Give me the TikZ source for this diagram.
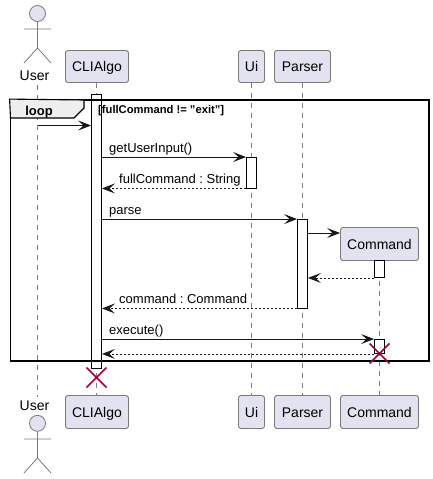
\documentclass[tikz,border=0pt]{standalone}
\usepackage{fontspec}
\setmainfont{Liberation Sans}
\usetikzlibrary{arrows.meta}
\frenchspacing
\definecolor{boxfill}{HTML}{E2E2F0}
\definecolor{boxline}{HTML}{7A7A7A}
\definecolor{inkline}{HTML}{181818}
\definecolor{lifeline}{HTML}{808080}
\definecolor{killred}{HTML}{A80036}
\definecolor{tabfill}{HTML}{EEEEEE}
\tikzset{
  part/.style={draw=boxline,fill=boxfill,rounded corners=2.5pt,line width=0.9pt,inner sep=0pt,
    minimum height=32pt,text height=10pt,text depth=0pt,font=\fontsize{14}{16}\selectfont,text=black},
  actorshape/.style={draw=boxline,line width=0.8pt},
  actorlabel/.style={inner sep=0pt,anchor=base,font=\fontsize{14}{16}\selectfont,text=black},
  life/.style={draw=lifeline,line width=0.8pt,dash pattern=on 5pt off 5pt},
  activation/.style={draw=black,fill=white,line width=0.9pt,inner sep=0pt,minimum width=10pt},
  msg/.style={draw=inkline,line width=0.9pt,-{Stealth[length=13pt,width=10pt,inset=5.5pt]}},
  ret/.style={msg,dash pattern=on 2pt off 2pt},
  msglabel/.style={inner sep=0pt,anchor=base west,font=\fontsize{13}{15}\selectfont,text=black},
  killmark/.style={draw=killred,line width=1.7pt},
  framebox/.style={draw=black,line width=1.8pt}
}
\begin{document}
\begin{tikzpicture}[x=1pt,y=-1pt]
\useasboundingbox (0,0) rectangle (433,479);
% participants
\node[part,minimum width=63pt] (cliT) at (97,66.5) {CLIAlgo};
\node[part,minimum width=26pt] (uiT) at (251.5,66.5) {Ui};
\node[part,minimum width=56pt] (parserT) at (302.5,66.5) {Parser};
\node[part,minimum width=78pt,minimum height=33pt] (cmdT) at (379.5,244) {Command};
\node[part,minimum width=63pt,minimum height=33pt] (cliB) at (97,412) {CLIAlgo};
\node[part,minimum width=26pt,minimum height=33pt] (uiB) at (251.5,412) {Ui};
\node[part,minimum width=56pt,minimum height=33pt] (parserB) at (302.5,412) {Parser};
\node[part,minimum width=78pt,minimum height=33pt] (cmdB) at (379.5,412) {Command};
% actors
\node[actorlabel] (userT) at (34.5,80) {User};
\node[actorlabel] (userB) at (34.5,410.7) {User};
\coordinate (userLifeT) at (37.5,85);
\coordinate (userLifeB) at (37.5,397);
\node[circle,draw=boxline,fill=boxfill,line width=0.8pt,minimum size=16pt,inner sep=0pt] (headT) at (37.5,13.5) {};
\draw[actorshape] (headT.south) -- (37.5,48) (24,29) -- (51,29) (24,63) -- (37.5,48) -- (51,63);
\node[circle,draw=boxline,fill=boxfill,line width=0.8pt,minimum size=16pt,inner sep=0pt] (headB) at (37.5,423.3) {};
\draw[actorshape] (headB.south) -- (37.5,458) (24,439) -- (51,439) (24,473) -- (37.5,458) -- (51,473);
% lifelines
\draw[life] (cliT.south -| 96.5,0) -- (cliB.north -| 96.5,0);
\draw[life] (userLifeT) -- (userLifeB);
\draw[life] (uiT) ++(0,16) -- (uiB.north);
\draw[life] (parserT) ++(0,16) -- (parserB.north);
\draw[life] (cmdT.south) -- (cmdB.north);
% activations
\node[activation,minimum height=274.5pt] (aCli) at (96.5,231.25) {};
\node[activation,minimum height=30.5pt] (aUi) at (251.5,172.75) {};
\node[activation,minimum height=88.5pt] (aParser) at (302.5,263.75) {};
\node[activation,minimum height=17pt] (aCmd) at (379.5,269) {};
\node[activation,minimum height=14pt] (aCmdTwo) at (379.5,346.5) {};
% loop frame
\node[draw=none,fill=none,inner sep=0pt,minimum width=418.5pt,minimum height=261pt,framebox] (loopFrame) at (219.75,230.5) {};
\path[fill=tabfill,draw=black,line width=1.1pt] (loopFrame.north west) -- (84,100) -- (84,108) -- (74,118) -- (10.5,118) -- cycle;
\node[inner sep=0pt,anchor=base,font=\fontsize{13}{15}\selectfont\bfseries,text=black] (loopLabel) at (39,115) {loop};
\node[inner sep=0pt,anchor=base west,font=\fontsize{11.2}{13}\selectfont\bfseries,text=black] (guard) at (98,113) {[fullCommand != \char34 exit\char34 ]};
% messages
\coordinate (userMsgStart) at (37.5,125.5);
\draw[msg] (userMsgStart) -- (aCli.west |- userMsgStart);
\draw[msg] (aCli.east |- aUi.north west) -- (aUi.north west);
\node[msglabel] (m1) at (109,152.8) {getUserInput()};
\draw[ret] (aUi.south west) -- (aCli.east |- aUi.south west);
\node[msglabel] (m2) at (119,183.3) {fullCommand : String};
\draw[msg] (aCli.east |- aParser.north west) -- (aParser.north west);
\node[msglabel] (m3) at (109,214.8) {parse};
\coordinate (createMsg) at (307.5,233);
\draw[msg] (createMsg) -- (cmdT.west |- createMsg);
\draw[ret] (aCmd.south west) -- (aParser.east |- aCmd.south west);
\draw[ret] (aParser.south west) -- (aCli.east |- aParser.south west);
\node[msglabel] (m4) at (119,303.3) {command : Command};
\draw[msg] (aCli.east |- aCmdTwo.north west) -- (aCmdTwo.north west);
\node[msglabel] (m5) at (109,334.8) {execute()};
\draw[ret] (aCmdTwo.south west) -- (aCli.east |- aCmdTwo.south west);
% destroy marks
\draw[killmark] (369.5,343.5) -- (389.5,363.5) (369.5,363.5) -- (389.5,343.5);
\draw[killmark] (86.5,367.5) -- (106.5,387.5) (86.5,387.5) -- (106.5,367.5);
\end{tikzpicture}
\end{document}
